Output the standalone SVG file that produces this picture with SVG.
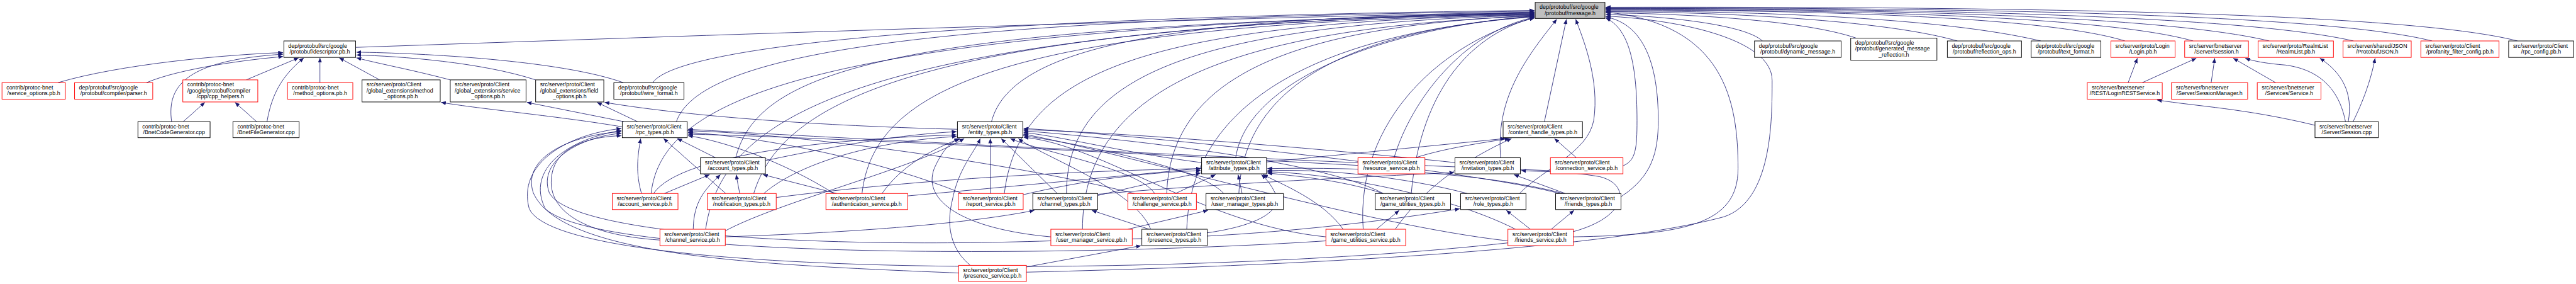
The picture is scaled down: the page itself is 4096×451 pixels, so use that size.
<svg xmlns="http://www.w3.org/2000/svg" width="4096" height="451" viewBox="0 0 4096 451">
<style>
.n rect{fill:#fff;stroke:#000;stroke-width:1.5}
.r rect{stroke:#f00}
.g rect{fill:#bfbfbf}
.n text{font-family:"Liberation Sans",Arial,sans-serif;font-size:14px;fill:#000}
.n text.c{text-anchor:middle}
#edges path{fill:none;stroke:#191970;stroke-width:1.3;marker-end:url(#ah)}
</style>
<defs>
<marker id="ah" markerUnits="userSpaceOnUse" markerWidth="12" markerHeight="10" viewBox="0 0 12 10" refX="12" refY="5" orient="auto"><path d="M0,0 L12,5 L0,10 z" fill="#191970"/></marker>
</defs>
<rect width="4096" height="451" fill="#fff"/>
<g transform="scale(0.63751)">
<g id="edges">
<path d="M144,206 C300,160 560,136 706,131"/>
<path d="M365,206 C450,170 620,148 706,141"/>
<path d="M428,303 C415,210 470,150 706,135"/>
<path d="M614,199 L745,144"/>
<path d="M666,303 C680,220 715,180 758,144"/>
<path d="M798,206 L798,144"/>
<path d="M947,199 L846,144"/>
<path d="M1123,199 C1020,172 950,160 889,144"/>
<path d="M1336,199 C1200,155 1000,140 889,137"/>
<path d="M1555,206 C1400,150 1050,132 889,130"/>
<path d="M457,303 L511,255"/>
<path d="M640,303 L586,255"/>
<path d="M1552,316 C1400,290 1200,272 1100,255"/>
<path d="M1556,303 C1450,282 1380,268 1314,255"/>
<path d="M1590,303 L1489,255"/>
<path d="M2388,322 C2100,315 1750,295 1508,255"/>
<path d="M887,118 C1700,90 3000,45 3827,30"/>
<path d="M1628,206 C1700,100 2600,40 3827,26"/>
<path d="M1687,303 C1750,120 2400,45 3827,28"/>
<path d="M2473,303 C2520,120 2900,40 3827,33"/>
<path d="M1835,393 C1890,180 2200,60 3827,35"/>
<path d="M3082,393 C3110,200 3450,70 3827,40"/>
<path d="M3477,393 C3520,250 3650,80 3827,43"/>
<path d="M1624,482 C1650,250 2000,70 3827,31"/>
<path d="M1880,482 C1950,250 2300,60 3827,34"/>
<path d="M2150,482 C2180,220 2500,60 3827,36"/>
<path d="M2505,482 C2540,200 2800,55 3827,37"/>
<path d="M2660,482 C2660,200 2950,60 3827,38"/>
<path d="M2910,482 C2920,200 3200,65 3827,39"/>
<path d="M3090,482 C3100,250 3300,80 3827,41"/>
<path d="M2700,571 C2700,250 3000,70 3827,40"/>
<path d="M2960,571 C2970,250 3300,80 3827,42"/>
<path d="M2560,678 C3300,660 4000,620 4300,540 C4420,500 4420,300 4420,200 C4420,100 4200,50 4005,40"/>
<path d="M3520,482 C3540,250 3650,90 3827,44"/>
<path d="M3400,571 C3380,300 3600,100 3827,45"/>
<path d="M1760,571 C1800,300 2100,70 3827,32"/>
<path d="M3852,303 L3907,48"/>
<path d="M3743,393 C3730,250 3800,150 3883,48"/>
<path d="M3790,482 C3850,420 3960,380 3975,300 C3990,200 3950,100 3930,48"/>
<path d="M4043,490 C4120,440 4136,380 4136,300 C4136,160 4100,60 4005,42"/>
<path d="M4048,413 C4080,400 4083,370 4083,300 C4083,150 4060,70 4005,45"/>
<path d="M3924,590 C4200,585 4335,560 4335,420 C4335,250 4300,60 4005,30"/>
<path d="M4396,102 C4350,60 4150,40 4005,36"/>
<path d="M4630,95 C4500,50 4200,34 4005,32"/>
<path d="M4882,102 C4700,50 4300,30 4005,29"/>
<path d="M5090,102 C4850,45 4400,28 4005,27"/>
<path d="M5300,102 C5100,40 4500,25 4005,25"/>
<path d="M5470,102 C5250,40 4600,24 4005,24"/>
<path d="M5660,102 C5400,40 4700,22 4005,22"/>
<path d="M5870,102 C5600,40 4800,20 4005,21"/>
<path d="M6066,102 C5800,35 4900,18 4005,20"/>
<path d="M6279,102 C6000,30 5000,16 4005,18"/>
<path d="M5308,206 L5331,145"/>
<path d="M5343,206 L5478,145"/>
<path d="M5515,206 L5524,145"/>
<path d="M5676,206 L5570,145"/>
<path d="M5850,303 C5830,200 5760,170 5700,162 C5650,158 5620,152 5600,145"/>
<path d="M5857,303 C5870,230 5840,180 5786,145"/>
<path d="M5869,303 C5900,240 5915,190 5924,145"/>
<path d="M5774,312 C5600,270 5480,265 5380,249"/>
<path d="M1909,400 C2100,360 2250,335 2386,328"/>
<path d="M1630,482 C1700,380 2100,345 2386,336"/>
<path d="M1905,482 C2000,400 2200,350 2386,340"/>
<path d="M2200,482 C2250,410 2330,370 2395,345"/>
<path d="M1809,575 C1950,500 2280,420 2405,345"/>
<path d="M2470,482 L2470,345"/>
<path d="M2637,482 L2497,345"/>
<path d="M2880,482 C2840,420 2600,380 2520,345"/>
<path d="M3052,482 C3000,420 2700,360 2553,338"/>
<path d="M2621,590 C2400,570 2300,500 2330,420 C2350,375 2370,355 2392,345"/>
<path d="M2870,571 C2830,470 2600,390 2540,345"/>
<path d="M2420,661 C2370,620 2360,560 2375,500 C2390,420 2430,380 2445,345"/>
<path d="M2997,405 C2800,380 2650,340 2553,330"/>
<path d="M3450,482 C3300,400 2800,345 2553,326"/>
<path d="M3307,590 C3000,560 2750,360 2553,342"/>
<path d="M3629,405 C3300,370 2800,330 2553,323"/>
<path d="M3890,482 C3700,430 2900,340 2553,320"/>
<path d="M3761,600 C3400,560 2800,380 2553,334"/>
<path d="M1785,393 L1689,345"/>
<path d="M1600,482 C1585,430 1590,390 1598,345"/>
<path d="M1810,482 L1655,345"/>
<path d="M2080,482 C1950,400 1800,350 1716,338"/>
<path d="M1646,598 C1450,585 1350,520 1380,420 C1400,360 1480,340 1550,338"/>
<path d="M2400,482 C2200,400 1900,340 1716,330"/>
<path d="M2830,482 C2500,400 1950,330 1716,326"/>
<path d="M2621,600 C2000,620 1420,580 1370,480 C1340,400 1450,340 1550,332"/>
<path d="M2391,680 C1900,660 1400,640 1330,480 C1300,390 1430,335 1550,328"/>
<path d="M3387,412 C2800,380 2000,340 1716,334"/>
<path d="M3867,425 C3200,400 2100,345 1716,322"/>
<path d="M3307,600 C2700,640 1500,650 1360,520 C1310,420 1420,345 1550,325"/>
<path d="M3761,605 C3000,690 1400,700 1320,520 C1290,410 1410,335 1550,320"/>
<path d="M1657,482 L1770,435"/>
<path d="M1845,482 L1836,435"/>
<path d="M2087,482 L1903,435"/>
<path d="M1729,571 C1730,500 1760,470 1797,435"/>
<path d="M1936,492 C2300,445 2700,425 2995,420"/>
<path d="M2552,485 C2700,450 2850,430 2995,425"/>
<path d="M2738,487 C2850,460 2920,445 2995,431"/>
<path d="M2932,482 L3032,435"/>
<path d="M3098,482 L3088,435"/>
<path d="M3011,580 C3150,560 3200,520 3180,480 C3170,460 3160,447 3146,435"/>
<path d="M3450,482 C3350,450 3250,440 3161,431"/>
<path d="M3350,571 C3300,500 3200,460 3150,435"/>
<path d="M3660,482 C3500,440 3300,420 3161,425"/>
<path d="M3900,482 C3700,430 3400,415 3161,420"/>
<path d="M3780,571 C3600,480 3300,430 3161,428"/>
<path d="M2866,571 L2723,524"/>
<path d="M1809,590 C2100,580 2400,560 2580,524"/>
<path d="M2738,484 C3000,460 3400,440 3627,430"/>
<path d="M3904,482 L3776,435"/>
<path d="M3924,577 C4060,540 4070,460 3990,440 C3900,425 3840,428 3794,425"/>
<path d="M3817,571 L3757,524"/>
<path d="M2824,595 C3100,590 3400,560 3641,520"/>
<path d="M3433,571 L3490,524"/>
<path d="M3869,571 L3926,524"/>
<path d="M2813,571 L3013,524"/>
<path d="M2560,665 L2846,612"/>
<path d="M2264,488 C2900,430 3500,370 3755,345"/>
<path d="M3480,571 C3550,470 3650,400 3770,345"/>
<path d="M3530,393 C3600,370 3700,355 3765,345"/>
<path d="M3932,393 L3877,345"/>
</g>
<g id="n_message" class="n g"><rect x="3829" y="6" width="174" height="40"/><text x="3840" y="22.5">dep/protobuf/src/google</text><text class="c" x="3916" y="37">/protobuf/message.h</text></g>
<g id="n_descriptor" class="n"><rect x="708" y="102" width="179" height="41"/><text x="719" y="118.5">dep/protobuf/src/google</text><text class="c" x="797.5" y="133">/protobuf/descriptor.pb.h</text></g>
<g id="n_dynamic_message" class="n"><rect x="4376" y="102" width="216" height="41"/><text x="4387" y="118.5">dep/protobuf/src/google</text><text class="c" x="4484" y="133">/protobuf/dynamic_message.h</text></g>
<g id="n_generated_message_reflection" class="n"><rect x="4616" y="95" width="215" height="55"/><text x="4627" y="111">dep/protobuf/src/google</text><text x="4627" y="126">/protobuf/generated_message</text><text class="c" x="4723.5" y="141">_reflection.h</text></g>
<g id="n_reflection_ops" class="n"><rect x="4857" y="102" width="185" height="41"/><text x="4868" y="118.5">dep/protobuf/src/google</text><text class="c" x="4949.5" y="133">/protobuf/reflection_ops.h</text></g>
<g id="n_text_format" class="n"><rect x="5066" y="102" width="174" height="41"/><text x="5077" y="118.5">dep/protobuf/src/google</text><text class="c" x="5153" y="133">/protobuf/text_format.h</text></g>
<g id="n_login_pb" class="n r"><rect x="5265" y="102" width="160" height="41"/><text x="5276" y="118.5">src/server/proto/Login</text><text class="c" x="5345" y="133">/Login.pb.h</text></g>
<g id="n_session_h" class="n r"><rect x="5449" y="102" width="159" height="41"/><text x="5460" y="118.5">src/server/bnetserver</text><text class="c" x="5528.5" y="133">/Server/Session.h</text></g>
<g id="n_realmlist" class="n r"><rect x="5632" y="102" width="188" height="41"/><text x="5643" y="118.5">src/server/proto/RealmList</text><text class="c" x="5726" y="133">/RealmList.pb.h</text></g>
<g id="n_protobufjson" class="n r"><rect x="5844" y="102" width="170" height="41"/><text x="5855" y="118.5">src/server/shared/JSON</text><text class="c" x="5929" y="133">/ProtobufJSON.h</text></g>
<g id="n_profanity" class="n r"><rect x="6038" y="102" width="195" height="41"/><text x="6049" y="118.5">src/server/proto/Client</text><text class="c" x="6135.5" y="133">/profanity_filter_config.pb.h</text></g>
<g id="n_rpc_config" class="n"><rect x="6257" y="102" width="162" height="41"/><text x="6268" y="118.5">src/server/proto/Client</text><text class="c" x="6338" y="133">/rpc_config.pb.h</text></g>
<g id="n_contrib_service_options" class="n r"><rect x="5" y="206" width="158" height="41"/><text x="16" y="222.5">contrib/protoc-bnet</text><text class="c" x="84" y="237">/service_options.pb.h</text></g>
<g id="n_parser" class="n r"><rect x="186" y="206" width="195" height="41"/><text x="197" y="222.5">dep/protobuf/src/google</text><text class="c" x="283.5" y="237">/protobuf/compiler/parser.h</text></g>
<g id="n_cpp_helpers" class="n r"><rect x="456" y="199" width="187" height="55"/><text x="467" y="215">contrib/protoc-bnet</text><text x="467" y="230">/google/protobuf/compiler</text><text class="c" x="549.5" y="245">/cpp/cpp_helpers.h</text></g>
<g id="n_contrib_method_options" class="n r"><rect x="717" y="206" width="163" height="41"/><text x="728" y="222.5">contrib/protoc-bnet</text><text class="c" x="798.5" y="237">/method_options.pb.h</text></g>
<g id="n_ge_method_options" class="n"><rect x="903" y="199" width="195" height="55"/><text x="914" y="215">src/server/proto/Client</text><text x="914" y="230">/global_extensions/method</text><text class="c" x="1000.5" y="245">_options.pb.h</text></g>
<g id="n_ge_service_options" class="n"><rect x="1123" y="199" width="189" height="55"/><text x="1134" y="215">src/server/proto/Client</text><text x="1134" y="230">/global_extensions/service</text><text class="c" x="1217.5" y="245">_options.pb.h</text></g>
<g id="n_ge_field_options" class="n"><rect x="1336" y="199" width="170" height="55"/><text x="1347" y="215">src/server/proto/Client</text><text x="1347" y="230">/global_extensions/field</text><text class="c" x="1421" y="245">_options.pb.h</text></g>
<g id="n_wire_format" class="n"><rect x="1531" y="206" width="175" height="41"/><text x="1542" y="222.5">dep/protobuf/src/google</text><text class="c" x="1618.5" y="237">/protobuf/wire_format.h</text></g>
<g id="n_loginrest" class="n r"><rect x="5206" y="206" width="187" height="41"/><text x="5217" y="222.5">src/server/bnetserver</text><text class="c" x="5299.5" y="237">/REST/LoginRESTService.h</text></g>
<g id="n_sessionmanager" class="n r"><rect x="5416" y="206" width="190" height="41"/><text x="5427" y="222.5">src/server/bnetserver</text><text class="c" x="5511" y="237">/Server/SessionManager.h</text></g>
<g id="n_service_h" class="n r"><rect x="5630" y="206" width="159" height="41"/><text x="5641" y="222.5">src/server/bnetserver</text><text class="c" x="5709.5" y="237">/Services/Service.h</text></g>
<g id="n_bnetcodegen" class="n"><rect x="344" y="303" width="180" height="40"/><text x="355" y="319.5">contrib/protoc-bnet</text><text class="c" x="434" y="334">/BnetCodeGenerator.cpp</text></g>
<g id="n_bnetfilegen" class="n"><rect x="581" y="303" width="165" height="40"/><text x="592" y="319.5">contrib/protoc-bnet</text><text class="c" x="663.5" y="334">/BnetFileGenerator.cpp</text></g>
<g id="n_rpc_types" class="n"><rect x="1552" y="303" width="162" height="40"/><text x="1563" y="319.5">src/server/proto/Client</text><text class="c" x="1633" y="334">/rpc_types.pb.h</text></g>
<g id="n_entity_types" class="n"><rect x="2388" y="303" width="163" height="40"/><text x="2399" y="319.5">src/server/proto/Client</text><text class="c" x="2469.5" y="334">/entity_types.pb.h</text></g>
<g id="n_content_handle_types" class="n"><rect x="3749" y="303" width="198" height="40"/><text x="3760" y="319.5">src/server/proto/Client</text><text class="c" x="3848" y="334">/content_handle_types.pb.h</text></g>
<g id="n_session_cpp" class="n"><rect x="5774" y="303" width="158" height="40"/><text x="5785" y="319.5">src/server/bnetserver</text><text class="c" x="5853" y="334">/Server/Session.cpp</text></g>
<g id="n_account_types" class="n"><rect x="1747" y="393" width="162" height="40"/><text x="1758" y="409.5">src/server/proto/Client</text><text class="c" x="1828" y="424">/account_types.pb.h</text></g>
<g id="n_attribute_types" class="n"><rect x="2997" y="393" width="162" height="40"/><text x="3008" y="409.5">src/server/proto/Client</text><text class="c" x="3078" y="424">/attribute_types.pb.h</text></g>
<g id="n_resource_service" class="n r"><rect x="3387" y="393" width="167" height="40"/><text x="3398" y="409.5">src/server/proto/Client</text><text class="c" x="3470.5" y="424">/resource_service.pb.h</text></g>
<g id="n_invitation_types" class="n"><rect x="3629" y="393" width="163" height="40"/><text x="3640" y="409.5">src/server/proto/Client</text><text class="c" x="3710.5" y="424">/invitation_types.pb.h</text></g>
<g id="n_connection_service" class="n r"><rect x="3867" y="393" width="181" height="40"/><text x="3878" y="409.5">src/server/proto/Client</text><text class="c" x="3957.5" y="424">/connection_service.pb.h</text></g>
<g id="n_account_service" class="n r"><rect x="1527" y="482" width="164" height="40"/><text x="1538" y="498.5">src/server/proto/Client</text><text class="c" x="1609" y="513">/account_service.pb.h</text></g>
<g id="n_notification_types" class="n r"><rect x="1764" y="482" width="172" height="40"/><text x="1775" y="498.5">src/server/proto/Client</text><text class="c" x="1850" y="513">/notification_types.pb.h</text></g>
<g id="n_authentication_service" class="n r"><rect x="2060" y="482" width="204" height="40"/><text x="2071" y="498.5">src/server/proto/Client</text><text class="c" x="2162" y="513">/authentication_service.pb.h</text></g>
<g id="n_report_service" class="n r"><rect x="2390" y="482" width="162" height="40"/><text x="2401" y="498.5">src/server/proto/Client</text><text class="c" x="2471" y="513">/report_service.pb.h</text></g>
<g id="n_channel_types" class="n"><rect x="2576" y="482" width="162" height="40"/><text x="2587" y="498.5">src/server/proto/Client</text><text class="c" x="2657" y="513">/channel_types.pb.h</text></g>
<g id="n_challenge_service" class="n r"><rect x="2813" y="482" width="171" height="40"/><text x="2824" y="498.5">src/server/proto/Client</text><text class="c" x="2898.5" y="513">/challenge_service.pb.h</text></g>
<g id="n_user_manager_types" class="n"><rect x="3008" y="482" width="193" height="40"/><text x="3019" y="498.5">src/server/proto/Client</text><text class="c" x="3104.5" y="513">/user_manager_types.pb.h</text></g>
<g id="n_game_utilities_types" class="n"><rect x="3430" y="482" width="188" height="40"/><text x="3441" y="498.5">src/server/proto/Client</text><text class="c" x="3524" y="513">/game_utilities_types.pb.h</text></g>
<g id="n_role_types" class="n"><rect x="3643" y="482" width="163" height="40"/><text x="3654" y="498.5">src/server/proto/Client</text><text class="c" x="3724.5" y="513">/role_types.pb.h</text></g>
<g id="n_friends_types" class="n"><rect x="3880" y="482" width="163" height="40"/><text x="3891" y="498.5">src/server/proto/Client</text><text class="c" x="3961.5" y="513">/friends_types.pb.h</text></g>
<g id="n_channel_service" class="n r"><rect x="1646" y="571" width="163" height="41"/><text x="1657" y="587.5">src/server/proto/Client</text><text class="c" x="1727.5" y="602">/channel_service.pb.h</text></g>
<g id="n_user_manager_service" class="n r"><rect x="2621" y="571" width="203" height="41"/><text x="2632" y="587.5">src/server/proto/Client</text><text class="c" x="2722.5" y="602">/user_manager_service.pb.h</text></g>
<g id="n_presence_types" class="n"><rect x="2848" y="571" width="163" height="41"/><text x="2859" y="587.5">src/server/proto/Client</text><text class="c" x="2929.5" y="602">/presence_types.pb.h</text></g>
<g id="n_game_utilities_service" class="n r"><rect x="3307" y="571" width="199" height="41"/><text x="3318" y="587.5">src/server/proto/Client</text><text class="c" x="3406.5" y="602">/game_utilities_service.pb.h</text></g>
<g id="n_friends_service" class="n r"><rect x="3761" y="571" width="163" height="41"/><text x="3772" y="587.5">src/server/proto/Client</text><text class="c" x="3842.5" y="602">/friends_service.pb.h</text></g>
<g id="n_presence_service" class="n r"><rect x="2391" y="661" width="169" height="40"/><text x="2402" y="677.5">src/server/proto/Client</text><text class="c" x="2475.5" y="692">/presence_service.pb.h</text></g>
</g>
</svg>
